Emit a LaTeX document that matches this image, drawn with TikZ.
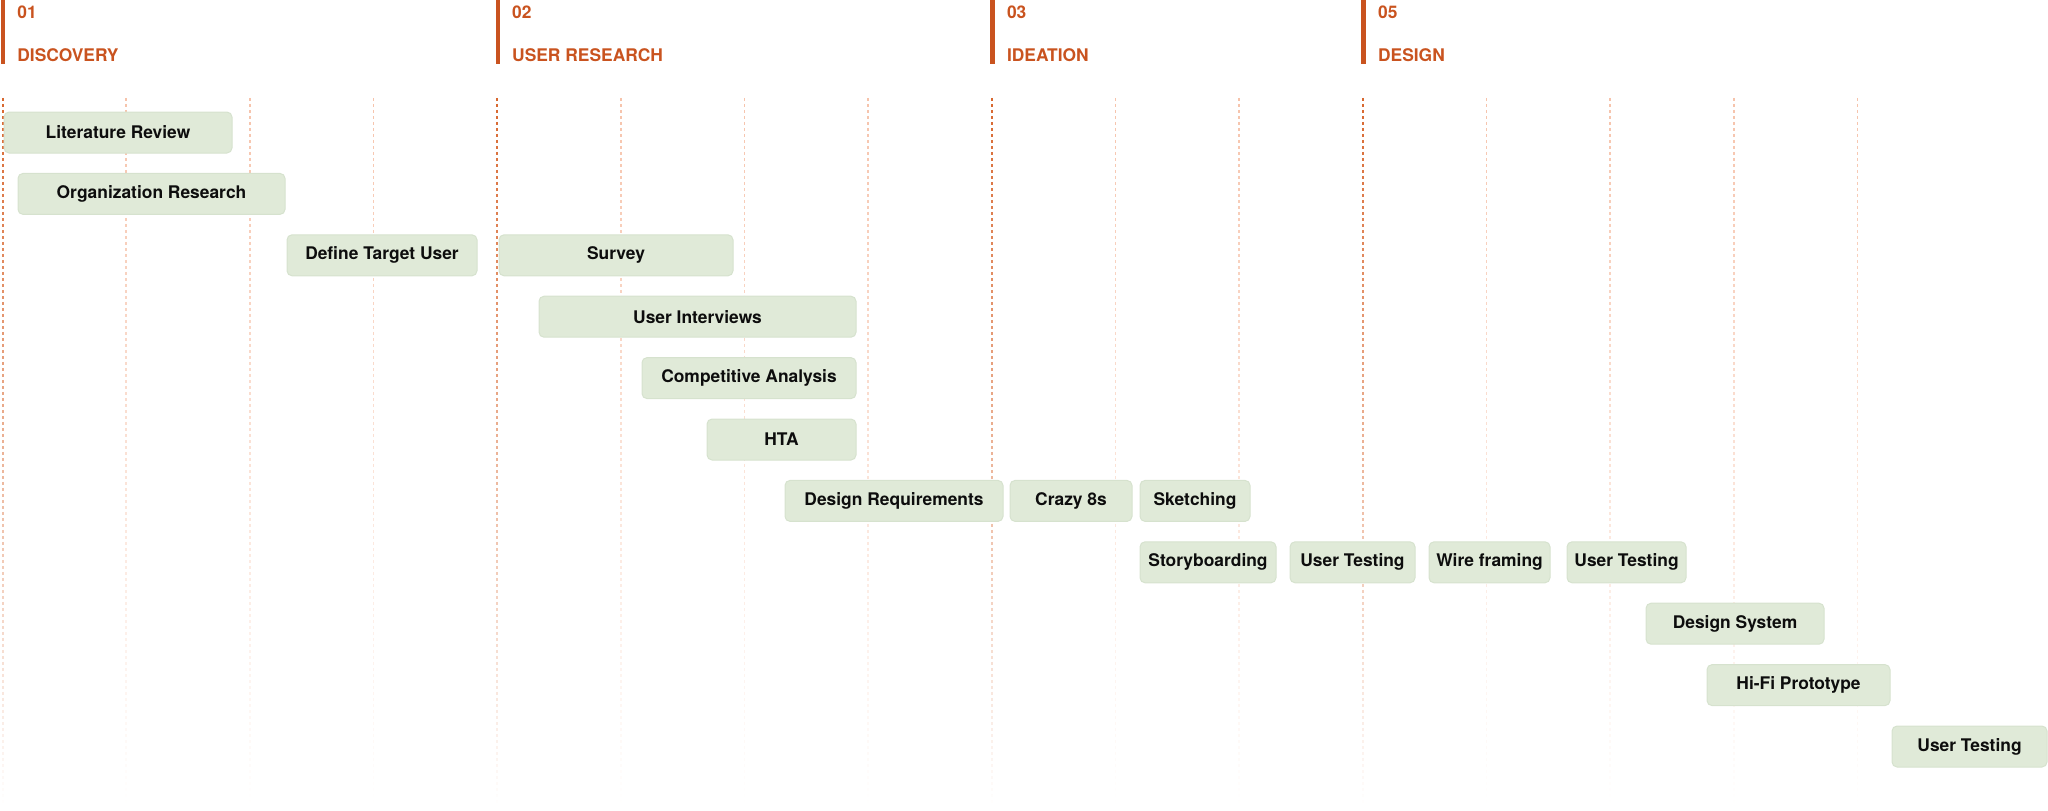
\documentclass[tikz,border=0pt]{standalone}
\usepackage{fontspec}
\setmainfont{TeX Gyre Heros}
\usetikzlibrary{fadings}

\definecolor{hdrorange}{HTML}{C9531F}
\definecolor{gridorange}{HTML}{D8672F}
\definecolor{gridpeach}{HTML}{F6C3AB}
\definecolor{taskgreen}{HTML}{E0EAD8}
\definecolor{taskedge}{HTML}{D6E2CE}

\tikzfading[name=fadegrid, top color=transparent!0, middle color=transparent!10, bottom color=transparent!100]

\begin{document}
\begin{tikzpicture}[x=0.5pt,y=-0.5pt,
    task/.style={rectangle, rounded corners=2.5pt, fill=taskgreen, draw=taskedge,
      line width=0.5pt, minimum height=20.5pt, inner sep=0pt, text=black!95,
      font=\fontsize{8.7}{10}\selectfont\bfseries},
    barlen/.style={minimum width=#1*0.5pt},
    gridline/.style={gridpeach, line width=0.75pt, dash pattern=on 1.5pt off 1.5pt},
    phaseline/.style={gridorange, line width=1pt, dash pattern=on 1.5pt off 1.5pt},
    phasetext/.style={anchor=base west, inner sep=0pt, text=hdrorange,
      font=\fontsize{8.7}{10}\selectfont\bfseries}]
    \useasboundingbox (0,0) rectangle (2048,810);
    % week grid, fading out downwards
    \begin{scope}
      \path[scope fading=fadegrid] (0,98) rectangle (2048,806);
      \foreach \i in {1,2,3,5,6,7,9,10,12,13,14,15}
        \draw[gridline] ({3+123.7*\i},98) -- ({3+123.7*\i},805);
      \foreach \i in {0,4,8,11}
        \draw[phaseline] ({3+123.7*\i},98) -- ({3+123.7*\i},805);
    \end{scope}
    % phase headers
    \foreach \i/\num/\name in {0/01/DISCOVERY, 4/02/USER RESEARCH, 8/03/IDEATION, 11/05/DESIGN} {
      \fill[hdrorange] ({3+123.7*\i-2.3},0) rectangle +(4.6,64);
      \node[phasetext] (num\i) at ({3+123.7*\i+14},18.5) {\num};
      \node[phasetext] (name\i) at ({3+123.7*\i+14},61) {\name};
    }
    % tasks
    \node[task, barlen=228] (litrev)     at (118,132.5)   {Literature Review};
    \node[task, barlen=267] (orgres)     at (151.5,193.9) {Organization Research};
    \node[task, barlen=190] (target)     at (382,255.3)   {Define Target User};
    \node[task, barlen=234] (survey)     at (616,255.3)   {Survey};
    \node[task, barlen=317] (interviews) at (697.5,316.7) {User Interviews};
    \node[task, barlen=214] (compan)     at (749,378.1)   {Competitive Analysis};
    \node[task, barlen=149] (hta)        at (781.5,439.5) {HTA};
    \node[task, barlen=218] (designreq)  at (894,500.9)   {Design Requirements};
    \node[task, barlen=122] (crazy)      at (1071,500.9)  {Crazy 8s};
    \node[task, barlen=110] (sketch)     at (1195,500.9)  {Sketching};
    \node[task, barlen=136] (story)      at (1208,562.3)  {Storyboarding};
    \node[task, barlen=125] (testa)      at (1352.5,562.3) {User Testing};
    \node[task, barlen=121] (wire)       at (1489.5,562.3) {Wire framing};
    \node[task, barlen=119] (testb)      at (1626.5,562.3) {User Testing};
    \node[task, barlen=178] (dsys)       at (1735,623.7)  {Design System};
    \node[task, barlen=183] (hifi)       at (1798.5,685.1) {Hi-Fi Prototype};
    \node[task, barlen=155] (testc)      at (1969.5,746.5) {User Testing};
\end{tikzpicture}
\end{document}
